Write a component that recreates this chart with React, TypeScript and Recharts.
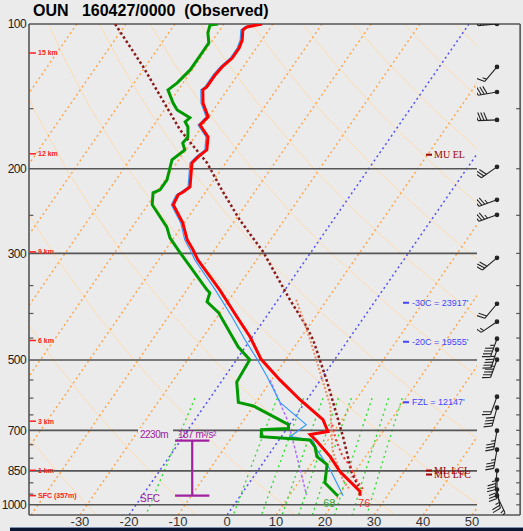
import React from "react";
import { ComposedChart, Line, Scatter, XAxis, YAxis, ReferenceLine } from "recharts";

// skew-T geometry
const SKEW = 29.5;
const P_TOP = 100;
const P_BOTTOM = 1050;
const X_MIN = -40.4;
const X_MAX = 51;
const X_FRAME = 59.8;

// observed temperature (hPa, °C)
const TEMP_P = [100, 101.4, 102.9, 108, 112.2, 117.7, 122.8, 127.6, 135.2, 137.1, 146, 156, 162.2, 171.7, 182.7, 188.9, 194.5, 218.2, 223.5, 226.6, 237.6, 259.2, 281.1, 294.9, 309.4, 357.2, 406.3, 447.1, 497.6, 549.9, 604.5, 664.9, 704, 714.1, 738.5, 793.8, 852.5, 937.6, 957];
const TEMP_C = [-62.2, -64.9, -65.3, -64.0, -63.5, -63.5, -64.3, -64.6, -64.6, -65.0, -63.1, -60.1, -60.6, -57.3, -55.7, -56.5, -56.9, -53.9, -54.6, -55.2, -54.8, -50.3, -47.0, -44.4, -42.0, -33.3, -26.0, -20.5, -15.1, -8.3, -1.4, 6.1, 8.8, 5.6, 8.0, 12.8, 16.9, 23.8, 24.4];

// dewpoint
const DWPT_P = [100, 100.5, 104.4, 109.5, 114.9, 124.6, 132.6, 137.1, 146, 150.9, 156.7, 159.7, 163.7, 171.7, 176.8, 182.7, 191.7, 210.9, 221.3, 224.5, 237.6, 264.2, 278.4, 299.1, 357.2, 362.3, 378.2, 397.8, 469.2, 499.2, 555.5, 612.3, 623.1, 681.2, 694, 698, 721.6, 725, 732.9, 757.3, 794, 825, 899.6, 954.4, 957];
const DWPT_C = [-71.2, -72.7, -72.0, -70.4, -70.4, -70.4, -71.2, -72.1, -69.2, -67.4, -63.7, -64.1, -62.8, -61.4, -61.6, -60.2, -61.4, -59.6, -59.6, -60.6, -59.1, -53.0, -50.8, -46.6, -35.9, -34.9, -34.2, -30.4, -21.5, -17.3, -16.8, -13.6, -10.0, -0.2, 0.3, -5.0, -4.1, -0.7, 6.3, 8.3, 10.1, 13.3, 15.4, 19.6, 20.0];

// wet bulb
const WETB_P = [100, 101.4, 102.9, 108, 112.2, 117.7, 122.8, 127.6, 135.2, 137.1, 146, 156, 162.2, 171.7, 182.7, 188.9, 194.5, 218.2, 223.5, 226.6, 237.6, 259.2, 281.1, 294.9, 309.4, 357.2, 406.3, 453.6, 497.6, 541, 612.3, 681.2, 721.6, 732.9, 770.6, 844.4, 954.4, 957];
const WETB_C = [-62.6, -65.3, -65.7, -64.4, -63.9, -63.9, -64.7, -65.0, -65.0, -65.4, -63.5, -60.5, -61.0, -57.7, -56.1, -56.9, -57.3, -54.3, -55.0, -55.6, -55.2, -50.7, -47.5, -45.0, -42.6, -34.2, -27.0, -21.1, -15.9, -11.4, -5.1, 3.4, 1.8, 6.9, 9.3, 14.6, 20.8, 21.0];

// parcel traces
const MU_PCL_P = [100, 122.8, 166, 194.5, 221.3, 255.5, 297.8, 374.4, 421.1, 453.6, 556, 721.6, 858.1, 914.4];
const MU_PCL_C = [-92.2, -80.4, -64.0, -53.8, -47.0, -39.1, -29.8, -17.6, -11.0, -7.2, 1.7, 12.6, 19.5, 22.7];
const ML_PCL_P = [374.4, 453.6, 531.1, 623.1, 770.6, 888.4, 930];
const ML_PCL_C = [-16.3, -7.8, -1.1, 5.7, 12.4, 18.7, 21.5];
const SB_PCL_P = [681.2, 732.9, 786.5, 832.6, 888.4, 937.6];
const SB_PCL_C = [8.7, 11.6, 14.9, 18.3, 21.5, 24.7];
const DOWN_P = [549.9, 664.9, 732.9, 844.4, 954.4];
const DOWN_C = [-10.3, -1.2, 2.8, 8.5, 13.4];

// winds
const WIND_P = [100, 122.8, 138.5, 158.3, 198.2, 232.1, 249.4, 306.4, 381.8, 416.1, 451.4, 475.8, 499.1, 595.8, 628, 701, 767.8, 848.9, 886.2, 929.7, 957];
const WIND_DIR = [265, 220, 260, 268, 235, 250, 250, 230, 220, 236, 200, 198, 200, 200, 195, 190, 190, 185, 180, 170, 155];
const WIND_KT = [45, 15, 40, 40, 30, 35, 35, 30, 20, 15, 45, 45, 45, 20, 40, 35, 35, 35, 30, 25, 15];

// axes / background
const P_LABELS = [100, 200, 300, 500, 700, 850, 1000];
const ISOBARS = [200, 300, 500, 700, 850, 1000];
const MINOR_P = [150, 250, 350, 400, 450, 550, 600, 650, 750, 800, 900, 950];
const T_TICKS = [-30, -20, -10, 0, 10, 20, 30, 40, 50];
const ISOTHERMS = [-110, -100, -90, -80, -70, -60, -50, -40, -30, -10, 10, 20, 30, 40, 50];
const BLUE_ISOTHERMS = [-20, 0];
const THETA_C = [-30, -10, 10, 30, 50, 70, 90, 110, 130, 150, 170, 190, 210];
const MIX_RATIO = [1, 4, 6, 8, 10, 12, 16, 20, 24];
const ADIABAT_P = [100, 120, 150, 200, 250, 300, 400, 500, 600, 700, 800, 900, 1050];
const MIX_P = [600, 700, 800, 900, 1050];

// annotations
const KM_P = [114.9, 186.2, 297.8, 455.2, 670, 847.6, 957];
const KM_TEXT = ["15 km", "12 km", "9 km", "6 km", "3 km", "1 km", "SFC (357m)"];
const PCL_LVL_P = [187, 848.6, 865];
const PCL_LVL_TEXT = ["MU EL", "ML LCL", "MU LFC"];
const ISO_LVL_P = [380, 458, 612];
const ISO_LVL_TEXT = ["-30C = 23917'", "-20C = 19555'", "FZL = 12147'"];
const SFC_P = 957;
const SFC_T_F = 76;
const SFC_TD_F = 68;
const SRH_TOP_P = 735.6;
const SRH_BOT_P = 957;

const skewX = (t: number, p: number) => t + SKEW * Math.log(P_BOTTOM / p);
const toPoints = (ps: number[], ts: number[]) => ps.map((p, i) => ({ x: skewX(ts[i], p), p }));
const isotherm = (t: number) => [
  { x: skewX(t, P_TOP), p: P_TOP },
  { x: skewX(t, P_BOTTOM), p: P_BOTTOM },
];
const dryAdiabat = (th: number) =>
  ADIABAT_P.map((p) => ({ x: skewX((th + 273.15) * Math.pow(p / 1000, 0.2857) - 273.15, p), p }));
const mixLine = (w: number) =>
  MIX_P.map((p) => {
    const l = Math.log((w * p) / (622 + w) / 6.112);
    return { x: skewX((243.5 * l) / (17.67 - l), p), p };
  });

const FONT = "'Liberation Sans', Arial, sans-serif";
const PURPLE = "#a0209f";

function WindBarb(props: any) {
  const { cx, cy, payload } = props;
  if (cx == null || cy == null) return null;
  const a = (payload.dir * Math.PI) / 180;
  const sx = Math.sin(a);
  const sy = -Math.cos(a);
  const px = -sy;
  const py = sx;
  const L = 19;
  const ex = cx + sx * L;
  const ey = cy + sy * L;
  const feathers = [];
  let rest = Math.round(payload.kt / 5) * 5;
  let d = 0;
  while (rest >= 10) {
    const bx = ex - sx * d;
    const by = ey - sy * d;
    feathers.push(<line key={d} x1={bx} y1={by} x2={bx + px * 8 + sx * 3} y2={by + py * 8 + sy * 3} />);
    d += 3;
    rest -= 10;
  }
  if (rest >= 5) {
    if (d === 0) d = 3;
    const bx = ex - sx * d;
    const by = ey - sy * d;
    feathers.push(<line key="h" x1={bx} y1={by} x2={bx + px * 4 + sx * 1.5} y2={by + py * 4 + sy * 1.5} />);
  }
  return (
    <g stroke="#222" strokeWidth={1.1}>
      <line x1={cx} y1={cy} x2={ex} y2={ey} />
      {feathers}
      <circle cx={cx} cy={cy} r={1.8} fill="#222" />
    </g>
  );
}

function KmLabel(props: any) {
  const { cx, cy, payload } = props;
  return (
    <g>
      <line x1={cx} y1={cy} x2={cx + 7} y2={cy} stroke="#ff2020" strokeWidth={1.5} />
      <text x={cx + 9} y={cy} dy="0.35em" fontSize={7} fontWeight="bold" fill="#ff2020" fontFamily={FONT}>
        {payload.label}
      </text>
    </g>
  );
}

function ParcelLevel(props: any) {
  const { cx, cy, payload } = props;
  return (
    <g>
      <line x1={cx} y1={cy} x2={cx + 6} y2={cy} stroke="#a00000" strokeWidth={2} />
      <text x={cx + 8} y={cy} dy="0.35em" fontSize={10} fill="#a00000" fontFamily="'Liberation Serif', serif">
        {payload.label}
      </text>
    </g>
  );
}

function IsoLevel(props: any) {
  const { cx, cy, payload } = props;
  return (
    <g>
      <line x1={cx} y1={cy} x2={cx + 6} y2={cy} stroke="#4444ff" strokeWidth={2} />
      <text x={cx + 9} y={cy} dy="0.35em" fontSize={9} fill="#4444ff" fontFamily={FONT}>
        {payload.label}
      </text>
    </g>
  );
}

export default function App() {
  const temp = toPoints(TEMP_P, TEMP_C);
  const dwpt = toPoints(DWPT_P, DWPT_C);
  const wetb = toPoints(WETB_P, WETB_C);
  const muPcl = toPoints(MU_PCL_P, MU_PCL_C);
  const mlPcl = toPoints(ML_PCL_P, ML_PCL_C);
  const sbPcl = toPoints(SB_PCL_P, SB_PCL_C);
  const down = toPoints(DOWN_P, DOWN_C);
  const kmData = KM_P.map((p, i) => ({ x: X_MIN, p, label: KM_TEXT[i] }));
  const pclLvl = PCL_LVL_P.map((p, i) => ({ x: 40.6, p, label: PCL_LVL_TEXT[i] }));
  const isoLvl = ISO_LVL_P.map((p, i) => ({ x: 35.9, p, label: ISO_LVL_TEXT[i] }));
  const sfcT = [{ x: skewX(TEMP_C[TEMP_C.length - 1], SFC_P), p: SFC_P, label: String(SFC_T_F) }];
  const sfcTd = [{ x: skewX(DWPT_C[DWPT_C.length - 1], SFC_P), p: SFC_P, label: String(SFC_TD_F) }];
  const winds = WIND_P.map((p, i) => ({ x: 0.5, p, dir: WIND_DIR[i], kt: WIND_KT[i] }));
  const srhX = -7.1;

  const xTick = { fontSize: 13, fill: "#333", fontFamily: FONT };
  const yTick = { fontSize: 12, fill: "#222", fontFamily: FONT, letterSpacing: -0.6 };

  return (
    <div style={{ position: "absolute", left: 0, top: 0, width: 523, height: 531, background: "#ebebeb", overflow: "hidden", fontFamily: FONT }}>
      <div style={{ position: "absolute", left: 0, top: 0 }}>
        <ComposedChart width={523} height={531} margin={{ top: 24, right: 46, bottom: 0, left: 0 }}>
          <XAxis type="number" dataKey="x" domain={[X_MIN, X_MAX]} allowDataOverflow ticks={T_TICKS} axisLine={false} tickLine={false} tickSize={0} tickMargin={2} height={16} tick={xTick} />
          <YAxis type="number" dataKey="p" scale="log" domain={[P_TOP, P_BOTTOM]} allowDataOverflow reversed ticks={P_LABELS} axisLine={false} tickLine={false} tickSize={0} tickMargin={3} width={29} tick={yTick} />

          {THETA_C.map((th) => (
            <Line key={`th${th}`} data={dryAdiabat(th)} dataKey="p" stroke="#ffdcb0" strokeWidth={1} dot={false} isAnimationActive={false} />
          ))}
          {ISOTHERMS.map((t) => (
            <Line key={`t${t}`} data={isotherm(t)} dataKey="p" stroke="#ffa64d" strokeWidth={1.5} strokeDasharray="2 3" dot={false} isAnimationActive={false} />
          ))}
          {BLUE_ISOTHERMS.map((t) => (
            <Line key={`b${t}`} data={isotherm(t)} dataKey="p" stroke="#5050ff" strokeWidth={1.5} strokeDasharray="2 3" dot={false} isAnimationActive={false} />
          ))}
          {MIX_RATIO.map((w) => (
            <Line key={`w${w}`} data={mixLine(w)} dataKey="p" stroke="#33dd33" strokeWidth={1.4} strokeDasharray="2 3.5" dot={false} isAnimationActive={false} />
          ))}

          {ISOBARS.map((p) => (
            <ReferenceLine key={`i${p}`} y={p} stroke="#555" strokeWidth={1.6} />
          ))}
          {MINOR_P.map((p) => (
            <ReferenceLine key={`ml${p}`} segment={[{ x: X_MIN, y: p }, { x: X_MIN + 0.9, y: p }]} stroke="#555" strokeWidth={1.2} ifOverflow="visible" />
          ))}
          {[...MINOR_P, ...ISOBARS].map((p) => (
            <ReferenceLine key={`mr${p}`} segment={[{ x: X_FRAME - 0.8, y: p }, { x: X_FRAME, y: p }]} stroke="#555" strokeWidth={1.2} ifOverflow="visible" />
          ))}
          <ReferenceLine segment={[{ x: X_MIN, y: P_TOP }, { x: X_FRAME, y: P_TOP }]} stroke="#555" strokeWidth={1.6} ifOverflow="visible" />
          <ReferenceLine segment={[{ x: X_MIN, y: P_BOTTOM }, { x: X_FRAME, y: P_BOTTOM }]} stroke="#555" strokeWidth={1.6} ifOverflow="visible" />
          <ReferenceLine segment={[{ x: X_MIN, y: P_TOP }, { x: X_MIN, y: P_BOTTOM }]} stroke="#555" strokeWidth={1.6} ifOverflow="visible" />
          <ReferenceLine segment={[{ x: X_FRAME, y: P_TOP }, { x: X_FRAME, y: P_BOTTOM }]} stroke="#555" strokeWidth={1.6} ifOverflow="visible" />

          {/* SRH bracket */}
          <ReferenceLine segment={[{ x: srhX, y: SRH_TOP_P }, { x: srhX, y: SRH_BOT_P }]} stroke={PURPLE} strokeWidth={2.2} ifOverflow="visible" />
          <ReferenceLine segment={[{ x: srhX - 3.5, y: SRH_TOP_P }, { x: srhX + 3.5, y: SRH_TOP_P }]} stroke={PURPLE} strokeWidth={2.2} ifOverflow="visible" />
          <ReferenceLine segment={[{ x: srhX - 3.5, y: SRH_BOT_P }, { x: srhX + 3.5, y: SRH_BOT_P }]} stroke={PURPLE} strokeWidth={2.2} ifOverflow="visible" />

          <Line data={down} dataKey="p" stroke="#b070ff" strokeWidth={1.5} strokeDasharray="3 2" dot={false} isAnimationActive={false} />
          <Line data={muPcl} dataKey="p" stroke="#8b1a1a" strokeWidth={2.5} strokeDasharray="2.5 2.5" dot={false} isAnimationActive={false} />
          <Line data={mlPcl} dataKey="p" stroke="#e8906a" strokeWidth={2} strokeDasharray="2 2" dot={false} isAnimationActive={false} />
          <Line data={sbPcl} dataKey="p" stroke="#ff3030" strokeWidth={2} strokeDasharray="2 3" dot={false} isAnimationActive={false} />
          <Line data={wetb} dataKey="p" stroke="#3399ff" strokeWidth={1.2} dot={false} isAnimationActive={false} />
          <Line data={dwpt} dataKey="p" stroke="#009a00" strokeWidth={3} dot={false} isAnimationActive={false} />
          <Line data={temp} dataKey="p" stroke="#ff0000" strokeWidth={3} dot={false} isAnimationActive={false} />

          <Scatter data={kmData} shape={KmLabel} isAnimationActive={false} />
          <Scatter data={pclLvl} shape={ParcelLevel} isAnimationActive={false} />
          <Scatter data={isoLvl} shape={IsoLevel} isAnimationActive={false} />
          <Scatter
            data={sfcTd}
            isAnimationActive={false}
            shape={(props: any) => (
              <text x={props.cx - 3} y={props.cy + 11} textAnchor="end" fontSize={11} fill="#3aaa3a" fontFamily={FONT}>
                {props.payload.label}
              </text>
            )}
          />
          <Scatter
            data={sfcT}
            isAnimationActive={false}
            shape={(props: any) => (
              <text x={props.cx - 2} y={props.cy + 11} fontSize={11} fill="#ff3030" fontFamily={FONT}>
                {props.payload.label}
              </text>
            )}
          />
        </ComposedChart>
      </div>

      {/* wind barb column */}
      <div style={{ position: "absolute", left: 477, top: 0 }}>
        <ComposedChart width={46} height={531} margin={{ top: 24, right: 6, bottom: 16, left: 0 }}>
          <XAxis type="number" dataKey="x" domain={[0, 1]} hide />
          <YAxis type="number" dataKey="p" scale="log" domain={[P_TOP, P_BOTTOM]} allowDataOverflow reversed hide />
          <Scatter data={winds} shape={WindBarb} isAnimationActive={false} />
        </ComposedChart>
      </div>

      <div style={{ position: "absolute", left: 33, top: 2, fontSize: 16, fontWeight: "bold", whiteSpace: "pre", color: "#000" }}>
        OUN   160427/0000  (Observed)
      </div>
      <div style={{ position: "absolute", left: 138, top: 428, width: 35, height: 14, background: "#ebebeb", color: PURPLE, fontSize: 10, lineHeight: "14px", letterSpacing: -0.5, paddingLeft: 2, boxSizing: "border-box" }}>
        2230m
      </div>
      <div style={{ position: "absolute", left: 178, top: 428, color: PURPLE, fontSize: 10, lineHeight: "14px", letterSpacing: -0.5, whiteSpace: "pre" }}>
        187 m²/s²
      </div>
      <div style={{ position: "absolute", left: 140, top: 492, color: PURPLE, fontSize: 10, lineHeight: "14px" }}>
        SFC
      </div>
      <div style={{ position: "absolute", left: 10, top: 527, width: 513, height: 4, background: "#0b1633", borderTop: "1px solid #8090b0" }} />
    </div>
  );
}
